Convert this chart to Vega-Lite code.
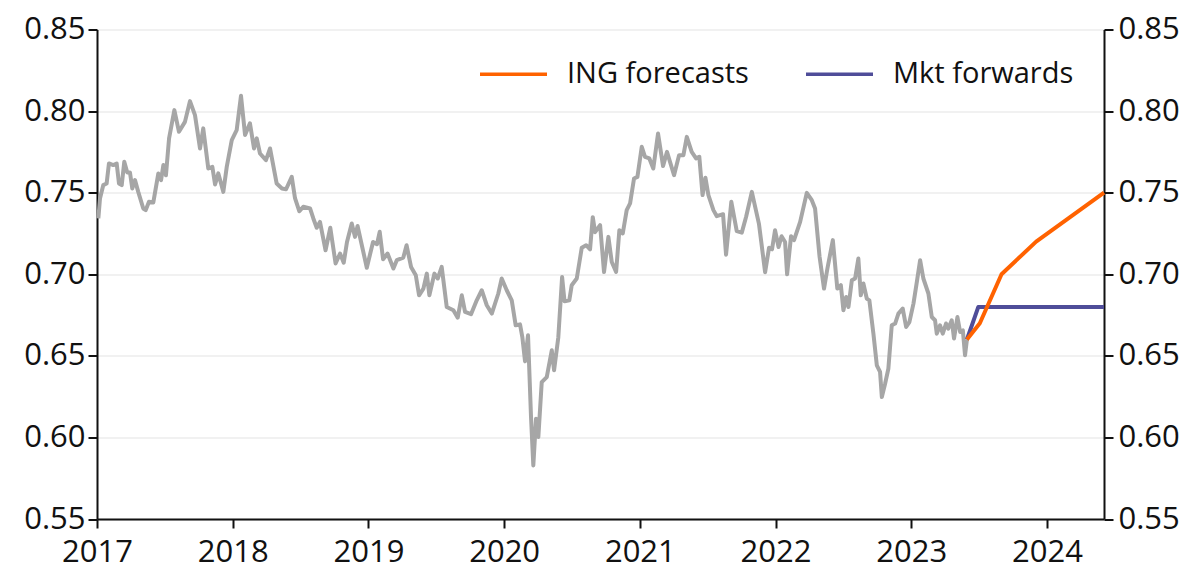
{
  "$schema": "https://vega.github.io/schema/vega-lite/v6.json",
  "description": "AUD/USD with ING forecasts and market forwards",
  "width": 1007,
  "height": 489.5,
  "autosize": {"type": "none"},
  "padding": {"left": 97, "top": 29.5, "right": 96, "bottom": 69},
  "config": {
    "view": {"stroke": null},
    "font": "Open Sans",
    "axis": {"labelFont": "Open Sans", "labelFontSize": 31, "labelColor": "#111111", "domainColor": "#111111", "tickColor": "#111111", "domainWidth": 2, "tickWidth": 2, "tickSize": 9, "ticks": true, "labelFlush": false, "title": null}
  },
  "data": {
    "values": [
      {"t": 2017.010, "v": 0.7342, "s": "AUD/USD"},
      {"t": 2017.022, "v": 0.7464, "s": "AUD/USD"},
      {"t": 2017.046, "v": 0.7546, "s": "AUD/USD"},
      {"t": 2017.071, "v": 0.7556, "s": "AUD/USD"},
      {"t": 2017.088, "v": 0.7679, "s": "AUD/USD"},
      {"t": 2017.120, "v": 0.7669, "s": "AUD/USD"},
      {"t": 2017.145, "v": 0.7679, "s": "AUD/USD"},
      {"t": 2017.162, "v": 0.7556, "s": "AUD/USD"},
      {"t": 2017.182, "v": 0.7546, "s": "AUD/USD"},
      {"t": 2017.201, "v": 0.7689, "s": "AUD/USD"},
      {"t": 2017.223, "v": 0.7624, "s": "AUD/USD"},
      {"t": 2017.243, "v": 0.7624, "s": "AUD/USD"},
      {"t": 2017.260, "v": 0.7526, "s": "AUD/USD"},
      {"t": 2017.280, "v": 0.7577, "s": "AUD/USD"},
      {"t": 2017.304, "v": 0.7505, "s": "AUD/USD"},
      {"t": 2017.341, "v": 0.7403, "s": "AUD/USD"},
      {"t": 2017.359, "v": 0.7393, "s": "AUD/USD"},
      {"t": 2017.383, "v": 0.7444, "s": "AUD/USD"},
      {"t": 2017.415, "v": 0.7440, "s": "AUD/USD"},
      {"t": 2017.452, "v": 0.7618, "s": "AUD/USD"},
      {"t": 2017.472, "v": 0.7577, "s": "AUD/USD"},
      {"t": 2017.489, "v": 0.7669, "s": "AUD/USD"},
      {"t": 2017.508, "v": 0.7607, "s": "AUD/USD"},
      {"t": 2017.531, "v": 0.7833, "s": "AUD/USD"},
      {"t": 2017.570, "v": 0.8006, "s": "AUD/USD"},
      {"t": 2017.604, "v": 0.7873, "s": "AUD/USD"},
      {"t": 2017.648, "v": 0.7934, "s": "AUD/USD"},
      {"t": 2017.685, "v": 0.8061, "s": "AUD/USD"},
      {"t": 2017.722, "v": 0.7975, "s": "AUD/USD"},
      {"t": 2017.759, "v": 0.7771, "s": "AUD/USD"},
      {"t": 2017.783, "v": 0.7894, "s": "AUD/USD"},
      {"t": 2017.820, "v": 0.7648, "s": "AUD/USD"},
      {"t": 2017.850, "v": 0.7658, "s": "AUD/USD"},
      {"t": 2017.870, "v": 0.7550, "s": "AUD/USD"},
      {"t": 2017.894, "v": 0.7618, "s": "AUD/USD"},
      {"t": 2017.931, "v": 0.7505, "s": "AUD/USD"},
      {"t": 2017.956, "v": 0.7658, "s": "AUD/USD"},
      {"t": 2017.993, "v": 0.7822, "s": "AUD/USD"},
      {"t": 2018.029, "v": 0.7883, "s": "AUD/USD"},
      {"t": 2018.061, "v": 0.8094, "s": "AUD/USD"},
      {"t": 2018.091, "v": 0.7853, "s": "AUD/USD"},
      {"t": 2018.127, "v": 0.7925, "s": "AUD/USD"},
      {"t": 2018.157, "v": 0.7771, "s": "AUD/USD"},
      {"t": 2018.177, "v": 0.7833, "s": "AUD/USD"},
      {"t": 2018.201, "v": 0.7740, "s": "AUD/USD"},
      {"t": 2018.245, "v": 0.7699, "s": "AUD/USD"},
      {"t": 2018.275, "v": 0.7771, "s": "AUD/USD"},
      {"t": 2018.324, "v": 0.7556, "s": "AUD/USD"},
      {"t": 2018.363, "v": 0.7526, "s": "AUD/USD"},
      {"t": 2018.393, "v": 0.7521, "s": "AUD/USD"},
      {"t": 2018.435, "v": 0.7597, "s": "AUD/USD"},
      {"t": 2018.459, "v": 0.7466, "s": "AUD/USD"},
      {"t": 2018.491, "v": 0.7386, "s": "AUD/USD"},
      {"t": 2018.520, "v": 0.7414, "s": "AUD/USD"},
      {"t": 2018.570, "v": 0.7403, "s": "AUD/USD"},
      {"t": 2018.594, "v": 0.7342, "s": "AUD/USD"},
      {"t": 2018.619, "v": 0.7285, "s": "AUD/USD"},
      {"t": 2018.643, "v": 0.7321, "s": "AUD/USD"},
      {"t": 2018.684, "v": 0.7147, "s": "AUD/USD"},
      {"t": 2018.719, "v": 0.7285, "s": "AUD/USD"},
      {"t": 2018.758, "v": 0.7066, "s": "AUD/USD"},
      {"t": 2018.791, "v": 0.7127, "s": "AUD/USD"},
      {"t": 2018.818, "v": 0.7071, "s": "AUD/USD"},
      {"t": 2018.842, "v": 0.7198, "s": "AUD/USD"},
      {"t": 2018.877, "v": 0.7311, "s": "AUD/USD"},
      {"t": 2018.901, "v": 0.7229, "s": "AUD/USD"},
      {"t": 2018.920, "v": 0.7296, "s": "AUD/USD"},
      {"t": 2018.988, "v": 0.7040, "s": "AUD/USD"},
      {"t": 2019.034, "v": 0.7198, "s": "AUD/USD"},
      {"t": 2019.063, "v": 0.7184, "s": "AUD/USD"},
      {"t": 2019.083, "v": 0.7260, "s": "AUD/USD"},
      {"t": 2019.108, "v": 0.7092, "s": "AUD/USD"},
      {"t": 2019.141, "v": 0.7127, "s": "AUD/USD"},
      {"t": 2019.184, "v": 0.7035, "s": "AUD/USD"},
      {"t": 2019.209, "v": 0.7086, "s": "AUD/USD"},
      {"t": 2019.257, "v": 0.7102, "s": "AUD/USD"},
      {"t": 2019.281, "v": 0.7178, "s": "AUD/USD"},
      {"t": 2019.314, "v": 0.7045, "s": "AUD/USD"},
      {"t": 2019.349, "v": 0.6994, "s": "AUD/USD"},
      {"t": 2019.373, "v": 0.6871, "s": "AUD/USD"},
      {"t": 2019.405, "v": 0.6912, "s": "AUD/USD"},
      {"t": 2019.430, "v": 0.7004, "s": "AUD/USD"},
      {"t": 2019.449, "v": 0.6871, "s": "AUD/USD"},
      {"t": 2019.486, "v": 0.7004, "s": "AUD/USD"},
      {"t": 2019.511, "v": 0.6974, "s": "AUD/USD"},
      {"t": 2019.540, "v": 0.7045, "s": "AUD/USD"},
      {"t": 2019.577, "v": 0.6799, "s": "AUD/USD"},
      {"t": 2019.626, "v": 0.6779, "s": "AUD/USD"},
      {"t": 2019.658, "v": 0.6734, "s": "AUD/USD"},
      {"t": 2019.688, "v": 0.6871, "s": "AUD/USD"},
      {"t": 2019.712, "v": 0.6769, "s": "AUD/USD"},
      {"t": 2019.756, "v": 0.6755, "s": "AUD/USD"},
      {"t": 2019.798, "v": 0.6840, "s": "AUD/USD"},
      {"t": 2019.835, "v": 0.6902, "s": "AUD/USD"},
      {"t": 2019.872, "v": 0.6810, "s": "AUD/USD"},
      {"t": 2019.909, "v": 0.6759, "s": "AUD/USD"},
      {"t": 2019.957, "v": 0.6882, "s": "AUD/USD"},
      {"t": 2019.982, "v": 0.6974, "s": "AUD/USD"},
      {"t": 2020.019, "v": 0.6902, "s": "AUD/USD"},
      {"t": 2020.056, "v": 0.6840, "s": "AUD/USD"},
      {"t": 2020.085, "v": 0.6687, "s": "AUD/USD"},
      {"t": 2020.117, "v": 0.6693, "s": "AUD/USD"},
      {"t": 2020.134, "v": 0.6615, "s": "AUD/USD"},
      {"t": 2020.154, "v": 0.6466, "s": "AUD/USD"},
      {"t": 2020.176, "v": 0.6626, "s": "AUD/USD"},
      {"t": 2020.198, "v": 0.6125, "s": "AUD/USD"},
      {"t": 2020.215, "v": 0.5828, "s": "AUD/USD"},
      {"t": 2020.235, "v": 0.6115, "s": "AUD/USD"},
      {"t": 2020.252, "v": 0.6002, "s": "AUD/USD"},
      {"t": 2020.277, "v": 0.6339, "s": "AUD/USD"},
      {"t": 2020.314, "v": 0.6370, "s": "AUD/USD"},
      {"t": 2020.351, "v": 0.6534, "s": "AUD/USD"},
      {"t": 2020.368, "v": 0.6411, "s": "AUD/USD"},
      {"t": 2020.399, "v": 0.6613, "s": "AUD/USD"},
      {"t": 2020.427, "v": 0.6983, "s": "AUD/USD"},
      {"t": 2020.445, "v": 0.6834, "s": "AUD/USD"},
      {"t": 2020.480, "v": 0.6840, "s": "AUD/USD"},
      {"t": 2020.498, "v": 0.6933, "s": "AUD/USD"},
      {"t": 2020.535, "v": 0.6974, "s": "AUD/USD"},
      {"t": 2020.572, "v": 0.7163, "s": "AUD/USD"},
      {"t": 2020.604, "v": 0.7178, "s": "AUD/USD"},
      {"t": 2020.633, "v": 0.7153, "s": "AUD/USD"},
      {"t": 2020.653, "v": 0.7350, "s": "AUD/USD"},
      {"t": 2020.670, "v": 0.7258, "s": "AUD/USD"},
      {"t": 2020.707, "v": 0.7301, "s": "AUD/USD"},
      {"t": 2020.736, "v": 0.7014, "s": "AUD/USD"},
      {"t": 2020.768, "v": 0.7229, "s": "AUD/USD"},
      {"t": 2020.793, "v": 0.7075, "s": "AUD/USD"},
      {"t": 2020.825, "v": 0.7014, "s": "AUD/USD"},
      {"t": 2020.849, "v": 0.7270, "s": "AUD/USD"},
      {"t": 2020.874, "v": 0.7250, "s": "AUD/USD"},
      {"t": 2020.903, "v": 0.7393, "s": "AUD/USD"},
      {"t": 2020.928, "v": 0.7434, "s": "AUD/USD"},
      {"t": 2020.957, "v": 0.7587, "s": "AUD/USD"},
      {"t": 2020.982, "v": 0.7597, "s": "AUD/USD"},
      {"t": 2021.014, "v": 0.7781, "s": "AUD/USD"},
      {"t": 2021.038, "v": 0.7720, "s": "AUD/USD"},
      {"t": 2021.070, "v": 0.7710, "s": "AUD/USD"},
      {"t": 2021.099, "v": 0.7648, "s": "AUD/USD"},
      {"t": 2021.134, "v": 0.7862, "s": "AUD/USD"},
      {"t": 2021.171, "v": 0.7663, "s": "AUD/USD"},
      {"t": 2021.200, "v": 0.7750, "s": "AUD/USD"},
      {"t": 2021.252, "v": 0.7607, "s": "AUD/USD"},
      {"t": 2021.289, "v": 0.7730, "s": "AUD/USD"},
      {"t": 2021.321, "v": 0.7730, "s": "AUD/USD"},
      {"t": 2021.346, "v": 0.7842, "s": "AUD/USD"},
      {"t": 2021.382, "v": 0.7750, "s": "AUD/USD"},
      {"t": 2021.414, "v": 0.7710, "s": "AUD/USD"},
      {"t": 2021.438, "v": 0.7720, "s": "AUD/USD"},
      {"t": 2021.462, "v": 0.7485, "s": "AUD/USD"},
      {"t": 2021.483, "v": 0.7592, "s": "AUD/USD"},
      {"t": 2021.505, "v": 0.7485, "s": "AUD/USD"},
      {"t": 2021.542, "v": 0.7393, "s": "AUD/USD"},
      {"t": 2021.567, "v": 0.7356, "s": "AUD/USD"},
      {"t": 2021.613, "v": 0.7368, "s": "AUD/USD"},
      {"t": 2021.635, "v": 0.7120, "s": "AUD/USD"},
      {"t": 2021.674, "v": 0.7444, "s": "AUD/USD"},
      {"t": 2021.714, "v": 0.7264, "s": "AUD/USD"},
      {"t": 2021.751, "v": 0.7255, "s": "AUD/USD"},
      {"t": 2021.783, "v": 0.7352, "s": "AUD/USD"},
      {"t": 2021.825, "v": 0.7505, "s": "AUD/USD"},
      {"t": 2021.878, "v": 0.7307, "s": "AUD/USD"},
      {"t": 2021.923, "v": 0.7012, "s": "AUD/USD"},
      {"t": 2021.952, "v": 0.7163, "s": "AUD/USD"},
      {"t": 2021.974, "v": 0.7153, "s": "AUD/USD"},
      {"t": 2021.996, "v": 0.7270, "s": "AUD/USD"},
      {"t": 2022.022, "v": 0.7167, "s": "AUD/USD"},
      {"t": 2022.044, "v": 0.7233, "s": "AUD/USD"},
      {"t": 2022.070, "v": 0.7198, "s": "AUD/USD"},
      {"t": 2022.085, "v": 0.7000, "s": "AUD/USD"},
      {"t": 2022.114, "v": 0.7233, "s": "AUD/USD"},
      {"t": 2022.136, "v": 0.7209, "s": "AUD/USD"},
      {"t": 2022.181, "v": 0.7321, "s": "AUD/USD"},
      {"t": 2022.230, "v": 0.7499, "s": "AUD/USD"},
      {"t": 2022.267, "v": 0.7454, "s": "AUD/USD"},
      {"t": 2022.291, "v": 0.7403, "s": "AUD/USD"},
      {"t": 2022.324, "v": 0.7109, "s": "AUD/USD"},
      {"t": 2022.357, "v": 0.6912, "s": "AUD/USD"},
      {"t": 2022.382, "v": 0.7035, "s": "AUD/USD"},
      {"t": 2022.422, "v": 0.7209, "s": "AUD/USD"},
      {"t": 2022.455, "v": 0.6912, "s": "AUD/USD"},
      {"t": 2022.481, "v": 0.6933, "s": "AUD/USD"},
      {"t": 2022.500, "v": 0.6779, "s": "AUD/USD"},
      {"t": 2022.520, "v": 0.6861, "s": "AUD/USD"},
      {"t": 2022.537, "v": 0.6799, "s": "AUD/USD"},
      {"t": 2022.562, "v": 0.6963, "s": "AUD/USD"},
      {"t": 2022.586, "v": 0.6974, "s": "AUD/USD"},
      {"t": 2022.610, "v": 0.7096, "s": "AUD/USD"},
      {"t": 2022.628, "v": 0.6871, "s": "AUD/USD"},
      {"t": 2022.647, "v": 0.6943, "s": "AUD/USD"},
      {"t": 2022.672, "v": 0.6851, "s": "AUD/USD"},
      {"t": 2022.691, "v": 0.6840, "s": "AUD/USD"},
      {"t": 2022.721, "v": 0.6636, "s": "AUD/USD"},
      {"t": 2022.746, "v": 0.6442, "s": "AUD/USD"},
      {"t": 2022.770, "v": 0.6401, "s": "AUD/USD"},
      {"t": 2022.783, "v": 0.6247, "s": "AUD/USD"},
      {"t": 2022.807, "v": 0.6329, "s": "AUD/USD"},
      {"t": 2022.831, "v": 0.6421, "s": "AUD/USD"},
      {"t": 2022.856, "v": 0.6687, "s": "AUD/USD"},
      {"t": 2022.881, "v": 0.6698, "s": "AUD/USD"},
      {"t": 2022.905, "v": 0.6759, "s": "AUD/USD"},
      {"t": 2022.937, "v": 0.6790, "s": "AUD/USD"},
      {"t": 2022.962, "v": 0.6677, "s": "AUD/USD"},
      {"t": 2022.986, "v": 0.6707, "s": "AUD/USD"},
      {"t": 2023.016, "v": 0.6820, "s": "AUD/USD"},
      {"t": 2023.041, "v": 0.6953, "s": "AUD/USD"},
      {"t": 2023.065, "v": 0.7086, "s": "AUD/USD"},
      {"t": 2023.089, "v": 0.6974, "s": "AUD/USD"},
      {"t": 2023.126, "v": 0.6882, "s": "AUD/USD"},
      {"t": 2023.151, "v": 0.6738, "s": "AUD/USD"},
      {"t": 2023.175, "v": 0.6718, "s": "AUD/USD"},
      {"t": 2023.188, "v": 0.6636, "s": "AUD/USD"},
      {"t": 2023.212, "v": 0.6687, "s": "AUD/USD"},
      {"t": 2023.232, "v": 0.6636, "s": "AUD/USD"},
      {"t": 2023.256, "v": 0.6698, "s": "AUD/USD"},
      {"t": 2023.273, "v": 0.6667, "s": "AUD/USD"},
      {"t": 2023.298, "v": 0.6718, "s": "AUD/USD"},
      {"t": 2023.315, "v": 0.6606, "s": "AUD/USD"},
      {"t": 2023.340, "v": 0.6738, "s": "AUD/USD"},
      {"t": 2023.360, "v": 0.6646, "s": "AUD/USD"},
      {"t": 2023.380, "v": 0.6656, "s": "AUD/USD"},
      {"t": 2023.396, "v": 0.6503, "s": "AUD/USD"},
      {"t": 2023.410, "v": 0.6600, "s": "AUD/USD"},
      {"t": 2023.410, "v": 0.66, "s": "Mkt forwards"},
      {"t": 2023.494, "v": 0.68, "s": "Mkt forwards"},
      {"t": 2024.420, "v": 0.68, "s": "Mkt forwards"},
      {"t": 2023.410, "v": 0.66, "s": "ING forecasts"},
      {"t": 2023.505, "v": 0.67, "s": "ING forecasts"},
      {"t": 2023.665, "v": 0.70, "s": "ING forecasts"},
      {"t": 2023.920, "v": 0.72, "s": "ING forecasts"},
      {"t": 2024.420, "v": 0.75, "s": "ING forecasts"}
    ]
  },
  "layer": [
    {
      "mark": {"type": "line", "strokeWidth": 4, "strokeJoin": "round"},
      "encoding": {
        "x": {
          "field": "t",
          "type": "quantitative",
          "scale": {"domain": [2017, 2024.42], "nice": false, "zero": false},
          "axis": {"values": [2017, 2018, 2019, 2020, 2021, 2022, 2023, 2024], "format": "d", "grid": false, "ticks": true, "tickSize": 9, "labelFlush": false, "labelPadding": 9}
        },
        "y": {
          "field": "v",
          "type": "quantitative",
          "scale": {"domain": [0.55, 0.85], "nice": false, "zero": false},
          "axis": {"orient": "left", "values": [0.55, 0.6, 0.65, 0.7, 0.75, 0.8, 0.85], "format": ".2f", "grid": true, "gridColor": "#ececec", "gridWidth": 1.5, "labelPadding": 3}
        },
        "color": {
          "field": "s",
          "type": "nominal",
          "scale": {"domain": ["AUD/USD", "ING forecasts", "Mkt forwards"], "range": ["#a6a6a6", "#ff6200", "#4f4d99"]},
          "legend": {
            "values": ["ING forecasts", "Mkt forwards"],
            "title": null,
            "orient": "none",
            "legendX": 381,
            "legendY": 9,
            "direction": "horizontal",
            "symbolType": "stroke",
            "symbolSize": 4489,
            "symbolStrokeWidth": 3.5,
            "labelFontSize": 29,
            "labelFont": "Open Sans",
            "labelColor": "#111111",
            "labelLimit": 400,
            "labelOffset": 18,
            "columnPadding": 50
          }
        }
      }
    },
    {
      "mark": {"type": "line", "opacity": 0},
      "encoding": {
        "x": {"field": "t", "type": "quantitative", "scale": {"domain": [2017, 2024.42], "nice": false, "zero": false}},
        "y": {
          "field": "v",
          "type": "quantitative",
          "scale": {"domain": [0.55, 0.85], "nice": false, "zero": false},
          "axis": {"orient": "right", "values": [0.55, 0.6, 0.65, 0.7, 0.75, 0.8, 0.85], "format": ".2f", "grid": false, "labelPadding": 5}
        }
      }
    }
  ],
  "resolve": {"scale": {"y": "independent"}}
}
